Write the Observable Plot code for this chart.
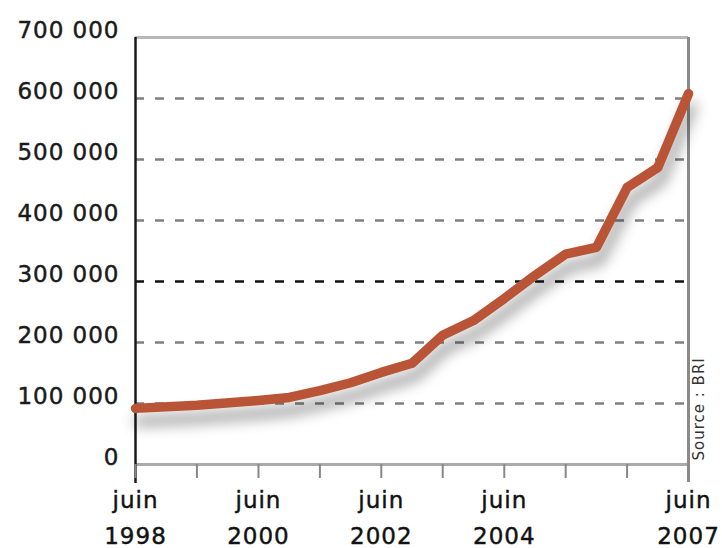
<!DOCTYPE html>
<html>
<head>
<meta charset="utf-8">
<script src="https://cdn.jsdelivr.net/npm/d3@7"></script>
<script src="https://cdn.jsdelivr.net/npm/@observablehq/plot@0.6"></script>
<style>
  html, body { margin: 0; padding: 0; background: #fff; }
  #chart { width: 722px; height: 548px; }
  #chart g[aria-label="y-axis tick label"] text,
  #chart g[aria-label="x-axis tick label"] text { stroke: #1a1a1a; stroke-width: 0.45px; }
</style>
</head>
<body>
<div id="chart"></div>
<script>
// Data
const periods = ["1998-06","1999-06","2000-06","2000-12","2001-06","2001-12","2002-06","2002-12",
                 "2003-06","2003-12","2004-06","2004-12","2005-06","2005-12","2006-06","2006-12","2007-06"];
const values  = [92000, 97000, 105000, 110000, 121000, 134000, 151000, 166000,
                 212000, 236000, 272000, 310000, 345000, 356000, 454000, 487000, 608000];
const tickYears = [1998, 1999, 2000, 2001, 2002, 2003, 2004, 2005, 2006, 2007];
const labeledYears = [1998, 2000, 2002, 2004, 2007];
const yTicks = [0, 100000, 200000, 300000, 400000, 500000, 600000, 700000];
const gridValues = [100000, 200000, 400000, 500000, 600000];
const gridDark = [300000];
const sourceText = "Source : BRI";

const parse = d3.utcParse("%Y-%m");
const data = periods.map((p, i) => ({date: parse(p), value: values[i]}));
const xTicks = tickYears.map(y => new Date(Date.UTC(y, 5, 1)));
const xDomain = [xTicks[0], xTicks[xTicks.length - 1]];
const fmtY = d => d3.format(",")(d).replace(/,/g, " ");

const plot = Plot.plot({
  width: 722,
  height: 548,
  marginLeft: 135,
  marginRight: 34,
  marginTop: 37,
  marginBottom: 84,
  style: {fontFamily: "DejaVu Sans, sans-serif", fontSize: "23px", color: "#1a1a1a", letterSpacing: "1px", background: "#fff"},
  x: {type: "utc", domain: xDomain, label: null},
  y: {domain: [0, 700000], label: null},
  marks: [
    // dashed gridlines
    Plot.ruleY(gridValues, {stroke: "#808080", strokeWidth: 2.5, strokeDasharray: "9,11"}),
    Plot.ruleY(gridDark, {stroke: "#111", strokeWidth: 2.5, strokeDasharray: "9,11"}),
    // frame
    Plot.ruleY([700000], {stroke: "#b8b8b8", strokeWidth: 3}),
    Plot.ruleY([0], {stroke: "#aaaaaa", strokeWidth: 3}),
    Plot.ruleX([xDomain[1]], {stroke: "#8a8a8a", strokeWidth: 3, insetBottom: -18}),
    Plot.ruleX([xDomain[0]], {stroke: "#1a1a1a", strokeWidth: 2.5, insetBottom: -19}),
    // axes
    Plot.axisY({ticks: yTicks, tickSize: 0, tickPadding: 16, dy: -7, tickFormat: fmtY, fill: "#1a1a1a", label: null}),
    Plot.axisX({ticks: xTicks, tickSize: 14, tickPadding: 3, stroke: "#888", strokeWidth: 2,
      lineHeight: 1.6, fill: "#111", label: null,
      tickFormat: d => labeledYears.includes(d.getUTCFullYear()) ? "juin\n" + d.getUTCFullYear() : ""}),
    // the series line
    Plot.line(data, {x: "date", y: "value", stroke: "#b95536", strokeWidth: 9.5, strokeLinejoin: "round", className: "series"}),
    // source
    Plot.text([sourceText], {frameAnchor: "bottom-right", rotate: -90, textAnchor: "start", dx: 15, dy: -4,
      fontSize: 15, fill: "#333", style: "letter-spacing:0.6px"})
  ]
});

d3.select(plot).selectAll(".series path, g.series path, [class*=series] path")
  .style("filter", "drop-shadow(3px 13px 7px rgba(0,0,0,0.4))");
document.getElementById("chart").appendChild(plot);
</script>
</body>
</html>
